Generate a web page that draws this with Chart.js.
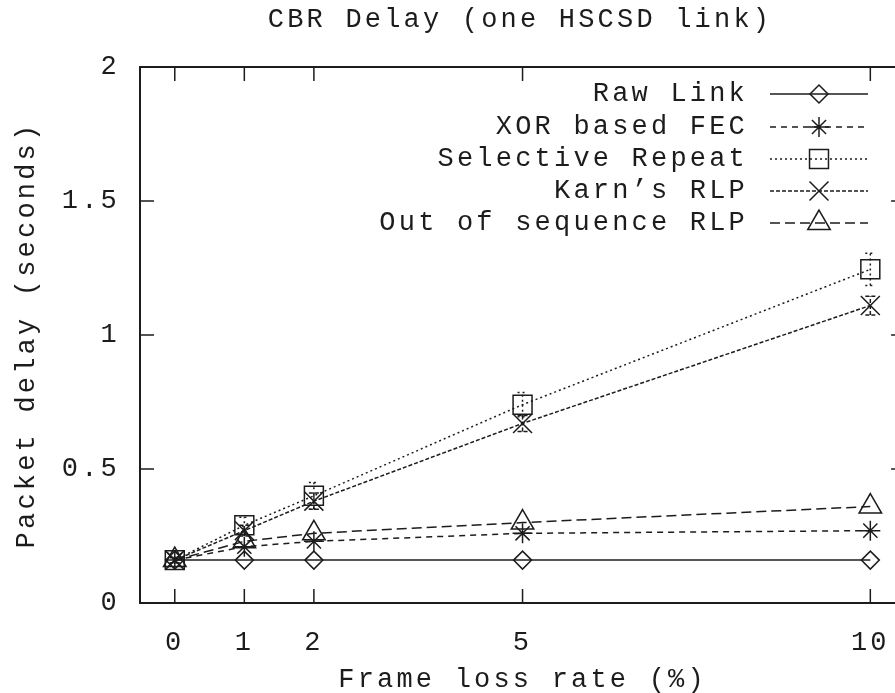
<!DOCTYPE html>
<html>
<head>
<meta charset="utf-8">
<title>CBR Delay (one HSCSD link)</title>
<script src="https://cdn.jsdelivr.net/npm/chart.js@4/dist/chart.umd.min.js"></script>
<style>
html, body { margin: 0; padding: 0; background: #fff; overflow: hidden; }
#wrap { width: 920px; height: 693px; }
</style>
</head>
<body>
<div id="wrap"><canvas id="myChart" width="920" height="693"></canvas></div>
<script>
// values
const lossRates = [0, 1, 2, 5, 10];
const xTickValues = [0, 1, 2, 5, 10];
const yTickValues = [0, 0.5, 1, 1.5, 2];
const seriesNames = ["Raw Link", "XOR based FEC", "Selective Repeat", "Karn’s RLP", "Out of sequence RLP"];
const rawLink   = [0.16, 0.16, 0.16, 0.16, 0.16];
const xorFec    = [0.16, 0.21, 0.23, 0.26, 0.27];
const selRepeat = [0.16, 0.29, 0.40, 0.74, 1.245];
const karnRlp   = [0.16, 0.27, 0.38, 0.67, 1.11];
const oosRlp    = [0.16, 0.23, 0.26, 0.30, 0.36];
const selRepeatErr = [0.01, 0.03, 0.05, 0.045, 0.06];
const karnRlpErr   = [0.01, 0.02, 0.03, 0.03, 0.035];

const ink = '#1c1c1c';
const mono = { family: '"Liberation Mono", "DejaVu Sans Mono", monospace', size: 27 };
const monoCss = '27px "Liberation Mono", "DejaVu Sans Mono", monospace';
const spacing = 3.2;

function points(ys) {
    return lossRates.map((x, i) => ({ x: x, y: ys[i] }));
}

function makeSet(name, ys, style, radius, dash, err) {
    return {
        label: name,
        data: points(ys),
        errors: err,
        borderColor: ink,
        borderWidth: 1.5,
        borderDash: dash,
        pointStyle: style,
        pointRadius: radius,
        pointBorderColor: ink,
        pointBorderWidth: 1.5,
        pointBackgroundColor: 'rgba(0,0,0,0)',
        tension: 0,
        fill: false
    };
}

const datasets = [
    makeSet(seriesNames[0], rawLink, 'rectRot', 9, []),
    makeSet(seriesNames[1], xorFec, 'star', 10, [6, 5]),
    makeSet(seriesNames[2], selRepeat, 'rect', 13.4, [2, 3], selRepeatErr),
    makeSet(seriesNames[3], karnRlp, 'crossRot', 13.4, [4, 2], karnRlpErr),
    makeSet(seriesNames[4], oosRlp, 'triangle', 13, [10, 5])
];

function marker(ctx, ds, x, y) {
    ctx.save();
    ctx.setLineDash([]);
    ctx.strokeStyle = ink;
    ctx.fillStyle = 'rgba(0,0,0,0)';
    ctx.lineWidth = 1.5;
    if (Chart.helpers && Chart.helpers.drawPoint) {
        Chart.helpers.drawPoint(ctx, { pointStyle: ds.pointStyle, radius: ds.pointRadius, rotation: 0, borderWidth: 1.5 }, x, y);
    }
    ctx.restore();
}

const gnuplotFrame = {
    id: 'gnuplotFrame',
    beforeDraw(chart) {
        chart.ctx.letterSpacing = spacing + 'px';
    },
    afterDatasetsDraw(chart) {
        const ctx = chart.ctx;
        const xs = chart.scales.x, ys = chart.scales.y;
        chart.data.datasets.forEach(ds => {
            if (!ds.errors) return;
            ctx.save();
            ctx.strokeStyle = ink;
            ctx.lineWidth = 1.5;
            ctx.setLineDash(ds.borderDash);
            lossRates.forEach((x, i) => {
                const px = xs.getPixelForValue(x);
                const y0 = ys.getPixelForValue(ds.data[i].y - ds.errors[i]);
                const y1 = ys.getPixelForValue(ds.data[i].y + ds.errors[i]);
                ctx.beginPath();
                ctx.moveTo(px, y0); ctx.lineTo(px, y1);
                ctx.moveTo(px - 5, y0); ctx.lineTo(px + 5, y0);
                ctx.moveTo(px - 5, y1); ctx.lineTo(px + 5, y1);
                ctx.stroke();
            });
            ctx.restore();
        });
    },
    afterDraw(chart) {
        const ctx = chart.ctx;
        const a = chart.chartArea;
        const xs = chart.scales.x, ys = chart.scales.y;
        const tick = 14;
        ctx.save();
        ctx.strokeStyle = ink;
        ctx.lineWidth = 2;
        ctx.setLineDash([]);
        ctx.strokeRect(a.left, a.top, a.right - a.left, a.bottom - a.top);
        ctx.lineWidth = 1.5;
        ctx.beginPath();
        xTickValues.forEach(v => {
            const px = xs.getPixelForValue(v);
            ctx.moveTo(px, a.bottom); ctx.lineTo(px, a.bottom - tick);
            ctx.moveTo(px, a.top); ctx.lineTo(px, a.top + tick);
        });
        yTickValues.forEach(v => {
            const py = ys.getPixelForValue(v);
            ctx.moveTo(a.left, py); ctx.lineTo(a.left + tick, py);
            ctx.moveTo(a.right, py); ctx.lineTo(a.right - tick, py);
        });
        ctx.stroke();

        // title
        ctx.font = monoCss;
        ctx.fillStyle = ink;
        ctx.letterSpacing = spacing + 'px';
        ctx.textAlign = 'center';
        ctx.textBaseline = 'middle';
        ctx.fillText('CBR Delay (one HSCSD link)', 520, 20);

        // legend: text on the left, sample on the right
        const rowY = [94, 127, 159, 191, 223];
        chart.data.datasets.forEach((ds, i) => {
            const y = rowY[i];
            ctx.textAlign = 'right';
            ctx.fillText(ds.label, 748, y);
            ctx.save();
            ctx.lineWidth = 1.5;
            ctx.setLineDash(ds.borderDash);
            ctx.beginPath();
            ctx.moveTo(770, y); ctx.lineTo(868, y);
            ctx.stroke();
            ctx.restore();
            marker(ctx, ds, 819, y);
        });
        ctx.restore();
    }
};

new Chart(document.getElementById('myChart').getContext('2d'), {
    type: 'line',
    data: { datasets: datasets },
    plugins: [gnuplotFrame],
    options: {
        responsive: false,
        animation: false,
        devicePixelRatio: 1,
        events: [],
        layout: { padding: { top: 67, right: 12, left: 0, bottom: 0 } },
        plugins: { legend: { display: false }, tooltip: { enabled: false } },
        scales: {
            x: {
                type: 'linear',
                min: -0.5,
                max: 10.5,
                afterBuildTicks: s => { s.ticks = xTickValues.map(v => ({ value: v })); },
                afterFit: s => { s.height = 90; },
                grid: { display: false, drawTicks: false },
                border: { display: false },
                ticks: { font: mono, color: ink, padding: 24, maxRotation: 0, autoSkip: false },
                title: { display: true, text: 'Frame loss rate (%)', font: mono, color: ink, padding: { top: 0, bottom: -3 } }
            },
            y: {
                type: 'linear',
                min: 0,
                max: 2,
                afterBuildTicks: s => { s.ticks = yTickValues.map(v => ({ value: v })); },
                afterFit: s => { s.width = 140; },
                grid: { display: false, drawTicks: false },
                border: { display: false },
                ticks: { font: mono, color: ink, padding: 20, callback: v => String(v) },
                title: { display: true, text: 'Packet delay (seconds)', font: mono, color: ink, padding: { top: 11, bottom: 0 } }
            }
        }
    }
});
</script>
</body>
</html>
